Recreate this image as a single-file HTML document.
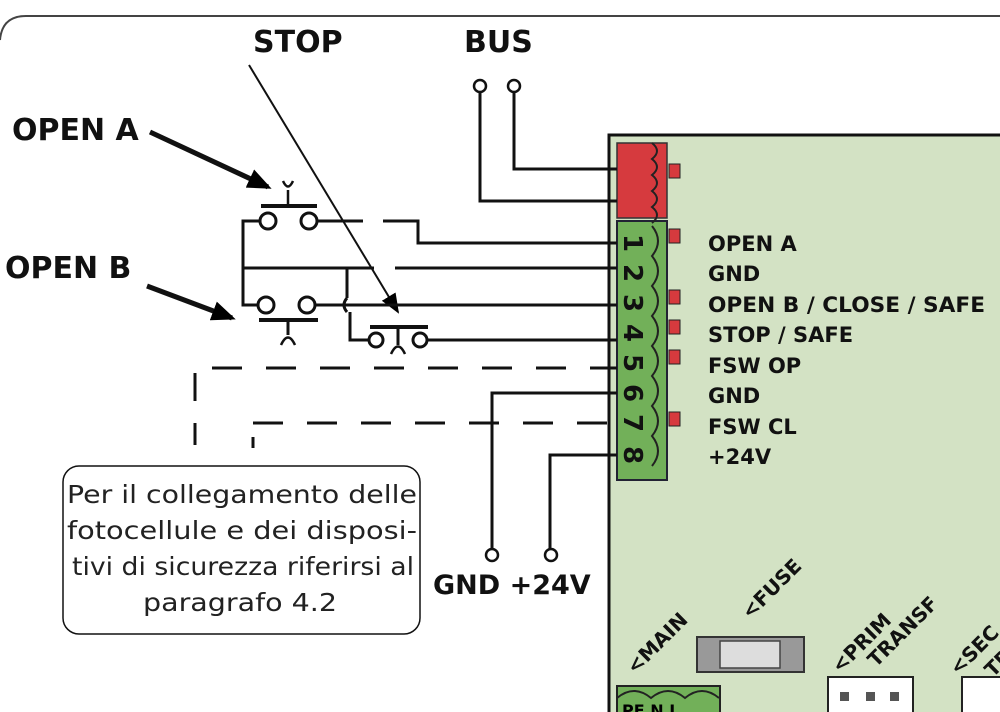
<!DOCTYPE html>
<html><head><meta charset="utf-8"><style>
html,body{margin:0;padding:0;background:#fff;width:1000px;height:712px;overflow:hidden}
svg text{font-family:"DejaVu Sans","Liberation Sans",sans-serif}
</style></head><body>
<svg width="1000" height="712" viewBox="0 0 1000 712" xmlns="http://www.w3.org/2000/svg">
<defs>
<marker id="ah2" markerWidth="24" markerHeight="20" refX="20" refY="10" orient="auto" markerUnits="userSpaceOnUse"><path d="M0,0 L24,10 L0,20 z" fill="#000"/></marker>
<marker id="ah3" markerWidth="20" markerHeight="16" refX="18" refY="8" orient="auto" markerUnits="userSpaceOnUse"><path d="M0,0 L20,8 L0,16 z" fill="#000"/></marker>
</defs>
<path d="M0,40 Q2,16 26,16 L1000,16" fill="none" stroke="#444" stroke-width="2"/>
<rect x="609" y="135" width="400" height="600" fill="#d3e2c4" stroke="#111" stroke-width="3"/>
<rect x="617" y="143" width="50" height="75" fill="#d63a3e" stroke="#333" stroke-width="1.5"/>
<rect x="617" y="221" width="50" height="259" fill="#72b059" stroke="#223" stroke-width="2"/>
<path d="M652,143 q10,8 0,16 q10,8 0,16 q10,8 0,16 q10,8 0,16 q10,8 0,16" fill="none" stroke="#222" stroke-width="2"/>
<path d="M652,226 q12,15 0,30 q12,15 0,30 q12,15 0,30 q12,15 0,30 q12,15 0,30 q12,15 0,30 q12,15 0,30 q12,15 0,30" fill="none" stroke="#222" stroke-width="2"/>
<g font-weight="bold" font-size="26" fill="#111">
<text transform="translate(624,243) rotate(90)" text-anchor="middle">1</text>
<text transform="translate(624,273) rotate(90)" text-anchor="middle">2</text>
<text transform="translate(624,303) rotate(90)" text-anchor="middle">3</text>
<text transform="translate(624,333) rotate(90)" text-anchor="middle">4</text>
<text transform="translate(624,363) rotate(90)" text-anchor="middle">5</text>
<text transform="translate(624,393) rotate(90)" text-anchor="middle">6</text>
<text transform="translate(624,423) rotate(90)" text-anchor="middle">7</text>
<text transform="translate(624,455) rotate(90)" text-anchor="middle">8</text>
</g>
<g fill="#d63a3e" stroke="#222" stroke-width="1">
<rect x="669" y="164" width="11" height="14"/>
<rect x="669" y="229" width="11" height="14"/>
<rect x="669" y="290" width="11" height="14"/>
<rect x="669" y="320" width="11" height="14"/>
<rect x="669" y="350" width="11" height="14"/>
<rect x="669" y="412" width="11" height="14"/>
</g>
<g font-weight="bold" font-size="21" fill="#111">
<text x="708" y="251">OPEN A</text>
<text x="708" y="281">GND</text>
<text x="708" y="312" textLength="277" lengthAdjust="spacingAndGlyphs">OPEN B / CLOSE / SAFE</text>
<text x="708" y="342">STOP / SAFE</text>
<text x="708" y="373">FSW OP</text>
<text x="708" y="403">GND</text>
<text x="708" y="434">FSW CL</text>
<text x="708" y="464">+24V</text>
</g>
<rect x="617" y="686" width="103" height="40" fill="#72b059" stroke="#222" stroke-width="2"/>
<path d="M617,698 q17,-14 34,0 q17,-14 34,0 q17,-14 34,0" fill="none" stroke="#222" stroke-width="2"/>
<text x="622" y="716" font-weight="bold" font-size="16">PE N L</text>
<rect x="697" y="637" width="107" height="35" fill="#999" stroke="#333" stroke-width="2"/>
<rect x="720" y="641" width="60" height="27" fill="#ddd" stroke="#444" stroke-width="1.5"/>
<rect x="828" y="677" width="85" height="40" fill="#fff" stroke="#222" stroke-width="2"/>
<g fill="#555"><rect x="840" y="692" width="9" height="9"/><rect x="866" y="692" width="9" height="9"/><rect x="890" y="692" width="9" height="9"/><rect x="970" y="692" width="9" height="9"/></g>
<rect x="962" y="677" width="50" height="40" fill="#fff" stroke="#222" stroke-width="2"/>
<g font-weight="bold" font-size="20" fill="#111">
<text transform="translate(635,675) rotate(-45)">&lt;MAIN</text>
<text transform="translate(750,620) rotate(-45)">&lt;FUSE</text>
<text transform="translate(840,674) rotate(-45)">&lt;PRIM</text>
<text transform="translate(876,668) rotate(-45)">TRANSF</text>
<text transform="translate(958,676) rotate(-45)">&lt;SEC</text>
<text transform="translate(993,678) rotate(-45)">TRANSF</text>
</g>
<g font-weight="bold" font-size="30" fill="#111">
<text x="253" y="52">STOP</text>
<text x="464" y="52">BUS</text>
<text x="12" y="140">OPEN A</text>
<text x="5" y="278">OPEN B</text>
<text x="433" y="594" font-size="27">GND +24V</text>
</g>
<g stroke="#111" fill="none" stroke-width="3">
<circle cx="480" cy="86" r="6" stroke-width="2.5"/><circle cx="514" cy="86" r="6" stroke-width="2.5"/>
<polyline points="480,92 480,201 617,201"/>
<polyline points="514,92 514,169 617,169"/>
<line x1="150" y1="132" x2="268" y2="187" stroke-width="5" marker-end="url(#ah2)"/>
<line x1="147" y1="286" x2="232" y2="318" stroke-width="5" marker-end="url(#ah2)"/>
<line x1="249" y1="65" x2="398" y2="312" stroke-width="2" marker-end="url(#ah3)"/>
<line x1="261" y1="206" x2="317" y2="206" stroke-width="4"/>
<line x1="288" y1="206" x2="288" y2="190" stroke-width="2.5"/>
<path d="M283,181 Q288,192 293,181" stroke-width="2.5"/>
<circle cx="268" cy="221" r="8"/><circle cx="309" cy="221" r="8"/>
<polyline points="260,221 243,221 243,305 259,305"/>
<polyline points="317,221 363,221"/>
<polyline points="383,221 418,221 418,243 617,243"/>
<line x1="243" y1="268" x2="374" y2="268"/>
<line x1="395" y1="268" x2="617" y2="268"/>
<circle cx="266" cy="305" r="8"/><circle cx="307" cy="305" r="8"/>
<line x1="259" y1="320" x2="318" y2="320" stroke-width="4"/>
<line x1="288" y1="320" x2="288" y2="335"/>
<path d="M281,345 Q288,330 295,345" stroke-width="2.5"/>
<line x1="315" y1="305" x2="350" y2="305"/>
<line x1="350" y1="305" x2="617" y2="305"/>
<polyline points="347,268 347,298"/>
<path d="M347,298 Q341,305 347,312"/>
<polyline points="350,312 350,340 368,340"/>
<circle cx="376" cy="340" r="7"/><circle cx="420" cy="340" r="7"/>
<line x1="370" y1="327" x2="428" y2="327" stroke-width="4"/>
<line x1="398" y1="327" x2="398" y2="345"/>
<path d="M391,354 Q398,339 405,354" stroke-width="2.5"/>
<line x1="427" y1="340" x2="617" y2="340"/>
<line x1="212" y1="368" x2="617" y2="368" stroke-dasharray="30,24"/>
<line x1="195" y1="373" x2="195" y2="445" stroke-dasharray="28,22"/>
<line x1="253" y1="423" x2="617" y2="423" stroke-dasharray="30,24"/>
<line x1="253" y1="437" x2="253" y2="448"/>
<polyline points="617,393 492,393 492,549"/>
<polyline points="617,455 550,455 550,549"/>
<circle cx="492" cy="555" r="6" stroke-width="2.5"/><circle cx="551" cy="555" r="6" stroke-width="2.5"/>
<rect x="63" y="466" width="357" height="168" rx="16" stroke-width="1.5"/>
</g>
<g font-size="25" fill="#222">
<text x="67" y="503" textLength="350" lengthAdjust="spacingAndGlyphs">Per il collegamento delle</text>
<text x="67" y="539" textLength="350" lengthAdjust="spacingAndGlyphs">fotocellule e dei disposi-</text>
<text x="72" y="575" textLength="342" lengthAdjust="spacingAndGlyphs">tivi di sicurezza riferirsi al</text>
<text x="143" y="611" textLength="194" lengthAdjust="spacingAndGlyphs">paragrafo 4.2</text>
</g>
</svg>
</body></html>
